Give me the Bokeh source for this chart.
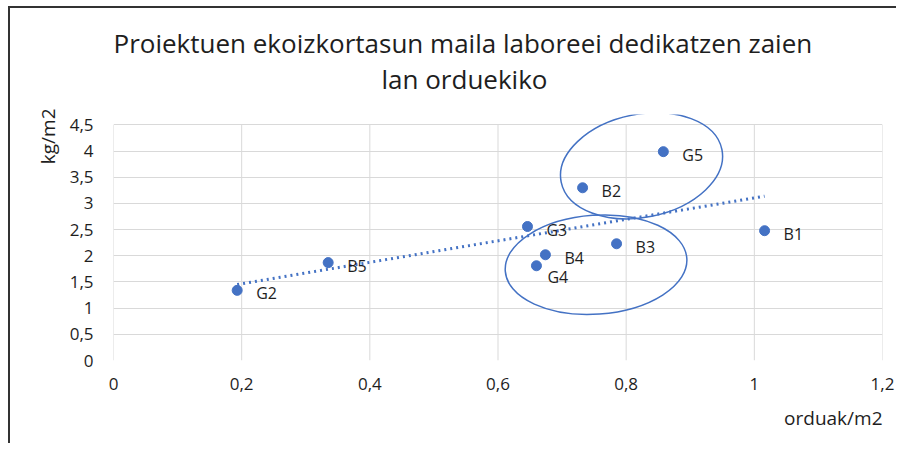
from bokeh.plotting import figure
from bokeh.models import ColumnDataSource, Title, CustomJSTickFormatter, FixedTicker
from bokeh.core.properties import value
from bokeh.embed import file_html
from bokeh.resources import INLINE
import numpy as np

# ---- data ----
names = ["G2", "B5", "G3", "B4", "G4", "B2", "B3", "G5", "B1"]
hours_per_m2 = [0.193, 0.335, 0.646, 0.674, 0.660, 0.732, 0.785, 0.858, 1.016]
kg_per_m2 = [1.34, 1.87, 2.56, 2.02, 1.81, 3.30, 2.23, 3.99, 2.48]
label_dx = [19, 19, 19, 19, 11, 19, 19, 19, 19]
label_dy = [3, 3, 3, 3, 11, 3, 3, 3, 3]

x_ticks = [0, 0.2, 0.4, 0.6, 0.8, 1.0, 1.2]
y_ticks = [0, 0.5, 1, 1.5, 2, 2.5, 3, 3.5, 4, 4.5]

# annotation ellipses (groups): centre in data units, size in screen px, angle (rad)
ell_x = [0.824, 0.753]
ell_y = [3.72, 1.83]
ell_w = [164, 182]
ell_h = [103, 99]
ell_a = [0.20, 0.07]

title_line1 = "Proiektuen ekoizkortasun maila laboreei dedikatzen zaien"
title_line2 = "lan orduekiko"
FONT = "Open Sans"
BLUE = "#4472C4"
DARK = "#1e1e1e"
GRID = "#d9d9d9"

x_lo, x_hi = x_ticks[0], x_ticks[-1]
y_lo, y_hi = y_ticks[0], y_ticks[-1]

# the frame is a little taller than the axis so that the ellipse can rise above it
p = figure(width=888, height=437, output_backend="svg", toolbar_location=None,
           x_range=(x_lo, x_hi), y_range=(y_lo, 4.7),
           min_border_left=103, min_border_right=16,
           min_border_top=106, min_border_bottom=85)
p.title = None
p.outline_line_color = None
p.styles = {"border-left": "2px solid #333", "border-top": "2px solid #333",
            "margin-left": "8px", "margin-top": "6px"}

fmt = CustomJSTickFormatter(code="""
let s = (Math.round(tick*10)/10).toString();
return s.replace('.', ',');
""")

for ax, ticks in ((p.xaxis[0], x_ticks), (p.yaxis[0], y_ticks)):
    ax.ticker = FixedTicker(ticks=ticks)
    ax.formatter = fmt
    ax.major_tick_line_color = None
    ax.minor_tick_line_color = None
    ax.major_tick_out = 0
    ax.major_tick_in = 0
    ax.major_label_text_font = FONT
    ax.major_label_text_font_size = "17px"
    ax.major_label_text_color = DARK
    ax.axis_line_color = None
p.xaxis.major_label_standoff = 17
p.yaxis.major_label_standoff = 20

# horizontal grid from the axis; vertical grid lines drawn only up to the top tick
p.xgrid.visible = False
p.ygrid.ticker = FixedTicker(ticks=y_ticks)
p.ygrid.grid_line_color = GRID
p.ygrid.grid_line_width = 1
p.segment(x0=x_ticks, x1=x_ticks, y0=[y_lo] * len(x_ticks), y1=[y_hi] * len(x_ticks),
          line_color=GRID, line_width=1, level="underlay")

# titles
t2 = Title(text=title_line2, align="left", text_font=FONT, text_font_size="26px",
           text_font_style="normal", text_color=DARK, standoff=35, offset=268)
p.add_layout(t2, "above")
t1 = Title(text=title_line1, align="left", text_font=FONT, text_font_size="26px",
           text_font_style="normal", text_color=DARK, standoff=-38, offset=0)
p.add_layout(t1, "above")
yl = Title(text="kg/m2", align="right", text_font=FONT, text_font_size="19px",
           text_font_style="normal", text_color=DARK, standoff=12, offset=-6)
p.add_layout(yl, "left")
xl = Title(text="orduak/m2", align="right", text_font=FONT, text_font_size="19px",
           text_font_style="normal", text_color=DARK, standoff=21)
p.add_layout(xl, "below")

src = ColumnDataSource(dict(x=hours_per_m2, y=kg_per_m2, name=names, dx=label_dx, dy=label_dy))

# trend line (least squares fit of the points)
slope, inter = np.polyfit(hours_per_m2, kg_per_m2, 1)
tx = [min(hours_per_m2), max(hours_per_m2)]
p.line(x=tx, y=[slope * v + inter for v in tx], line_color=BLUE, line_width=3,
       line_dash="2 4")

p.scatter("x", "y", source=src, size=10, fill_color=BLUE, line_color=BLUE)
p.text("x", "y", text="name", source=src, x_offset="dx", y_offset="dy",
       text_font=value(FONT), text_font_size="16px", text_color=DARK,
       text_baseline="middle", text_align="left")

p.ellipse(x=ell_x, y=ell_y, width=ell_w, height=ell_h, angle=ell_a,
          width_units="screen", height_units="screen",
          fill_color=None, line_color=BLUE, line_width=1.5)

open("out.html", "w").write(file_html(p, INLINE))
